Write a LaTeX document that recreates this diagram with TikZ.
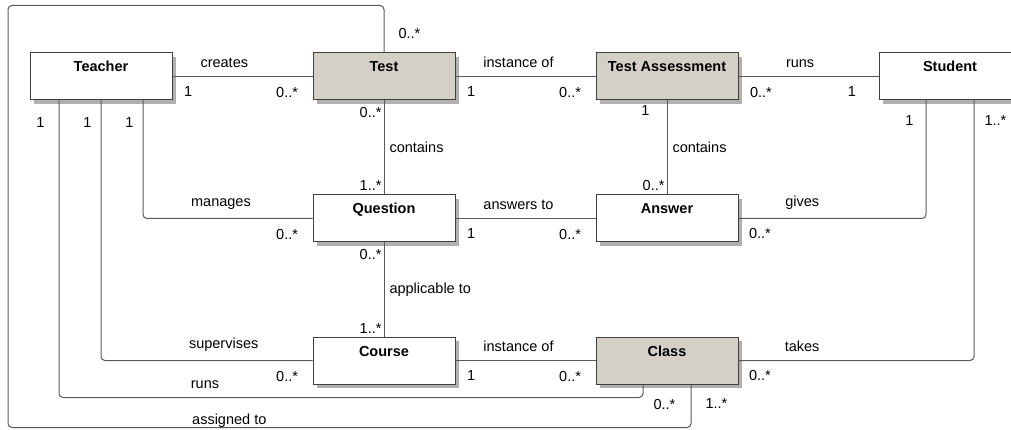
\documentclass[tikz,border=0pt]{standalone}
\usepackage{fontspec}
\setmainfont{Liberation Sans}
\usetikzlibrary{positioning, shadows}

\definecolor{boxgray}{HTML}{D4D0C8}
\definecolor{linegray}{HTML}{5A5A5A}
\definecolor{edgegray}{HTML}{404040}
\definecolor{shadowgray}{HTML}{B0B0B0}

\begin{document}
\begin{tikzpicture}[x=1pt, y=1pt, node distance=94pt and 140pt, font=\fontsize{14.5}{17}\selectfont]
    \tikzstyle{entity} = [rectangle, minimum width=142pt, inner sep=0pt, text height=19pt, text depth=28pt, draw=edgegray, line width=1pt, fill=white, font=\fontsize{14.5}{17}\selectfont\bfseries, general shadow={fill=shadowgray, shadow xshift=4pt, shadow yshift=-4pt}]
    \tikzstyle{record} = [entity, fill=boxgray]
    \tikzstyle{assoc} = [draw=linegray, line width=1pt, rounded corners=4pt]
    \tikzstyle{mult} = [inner sep=1pt]
    \tikzstyle{role} = [inner sep=1pt]

    \useasboundingbox (0,0) rectangle (1011,-430);
    \clip (0,0) rectangle (1011,-430);

    \node (teacher) [entity] at (101,-76.5) {Teacher};
    \node (test) [record, right=of teacher] {Test};
    \node (assess) [record, right=of test] {Test Assessment};
    \node (student) [entity, right=of assess] {Student};
    \node (question) [entity, below=of test] {Question};
    \node (answer) [entity, below=of assess] {Answer};
    \node (course) [entity, below=of question] {Course};
    \node (class) [record, below=of answer] {Class};

    % top row
    \draw [assoc] (teacher) -- node[role, above=7pt, pos=.37] {creates} node[mult, below right=9pt and 10pt, pos=0] {1} node[mult, below left=9pt and 13pt, pos=1] {0..*} (test);
    \draw [assoc] (test) -- node[role, above=7pt, pos=.45] {instance of} node[mult, below right=9pt and 10pt, pos=0] {1} node[mult, below left=9pt and 13pt, pos=1] {0..*} (assess);
    \draw [assoc] (assess) -- node[role, above=7pt, pos=.44] {runs} node[mult, below right=9pt and 10pt, pos=0] {0..*} node[mult, below left=9pt and 21pt, pos=1] {1} (student);

    % verticals
    \draw [assoc] (test) -- node[role, right=4pt] {contains} node[mult, below left=5pt and 1pt, pos=0] {0..*} node[mult, above left=2pt and 1pt, pos=1] {1..*} (question);
    \draw [assoc] (assess) -- node[role, right=4pt] {contains} node[mult, below left=4pt and 16pt, pos=0] {1} node[mult, above left=2pt and 1pt, pos=1] {0..*} (answer);
    \draw [assoc] (question) -- node[role, right=4pt] {applicable to} node[mult, below left=5pt and 1pt, pos=0] {0..*} node[mult, above left=2pt and 1pt, pos=1] {1..*} (course);

    % middle and bottom rows
    \draw [assoc] (question) -- node[role, above=7pt, pos=.45] {answers to} node[mult, below right=9pt and 10pt, pos=0] {1} node[mult, below left=9pt and 13pt, pos=1] {0..*} (answer);
    \draw [assoc] (course) -- node[role, above=7pt, pos=.45] {instance of} node[mult, below right=9pt and 10pt, pos=0] {1} node[mult, below left=9pt and 13pt, pos=1] {0..*} (class);

    % teacher links
    \draw [assoc] ([xshift=42pt]teacher.south) |- node[mult, pos=0, below left=16pt and 8pt] {1} node[role, pos=.73, above=7pt] {manages} node[mult, pos=1, below left=9pt and 13pt] {0..*} (question);
    \draw [assoc] (teacher.south) |- node[mult, pos=0, below left=16pt and 8pt] {1} node[role, pos=.79, above=7pt] {supervises} node[mult, pos=1, below left=9pt and 13pt] {0..*} (course);
    \draw [assoc] ([xshift=-42pt]teacher.south) -- node[mult, pos=0, below left=16pt and 13pt] {1} ++(0,-297) -| node[role, pos=.125, above=7pt] {runs} node[mult, pos=1, below right=13pt and 9pt] {0..*} ([xshift=-24pt]class.south);

    % outer loop
    \draw [assoc] (test.north) -- node[mult, pos=.4, right=13pt] {0..*} ++(0,47) -- ++(-376,0) -- ++(0,-422) -| node[role, pos=.162, anchor=base, yshift=3pt] {assigned to} node[mult, pos=1, below right=13pt and 13pt] {1..*} ([xshift=24pt]class.south);

    % student links
    \draw [assoc] (answer) -| node[role, pos=.17, above=7pt] {gives} node[mult, pos=0, below right=8pt and 9pt] {0..*} node[mult, pos=1, below left=14pt and 11pt] {1} ([xshift=-24pt]student.south);
    \draw [assoc] (class) -| node[role, pos=.135, above=7pt] {takes} node[mult, pos=0, below right=8pt and 9pt] {0..*} node[mult, pos=1, below right=14pt and 9pt] {1..*} ([xshift=24pt]student.south);
\end{tikzpicture}
\end{document}
